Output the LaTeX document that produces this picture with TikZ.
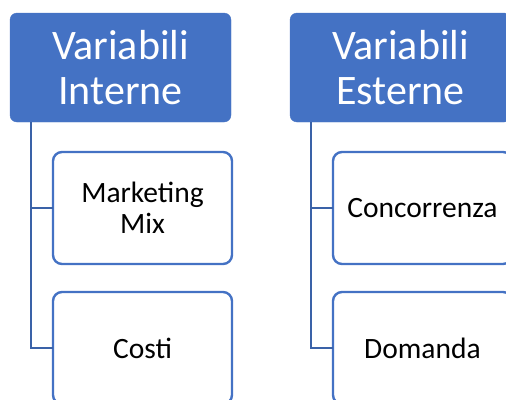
\documentclass[tikz,border=0pt]{standalone}
\usepackage{fontspec}
\setmainfont{Carlito}
\definecolor{accent}{HTML}{4472C4}
\definecolor{linkblue}{HTML}{3A62A8}
\tikzset{
  header/.style={fill=accent, draw=accent, rounded corners=7pt, minimum width=221pt, minimum height=109pt, inner sep=0pt, outer sep=0pt, text=white, align=center, font=\fontsize{42}{45}\selectfont},
  child/.style={fill=white, draw=accent, line width=2.4pt, rounded corners=9pt, minimum width=179pt, minimum height=112pt, inner sep=0pt, outer sep=0pt, text=black, align=center, font=\fontsize{29.5}{31}\selectfont},
  link/.style={draw=linkblue, line width=2.8pt}
}
\begin{document}
\begin{tikzpicture}[x=1pt,y=1pt]
\useasboundingbox (0,0) rectangle (506,-399);
\clip (0,0) rectangle (506,-399);
\node[header] (h1) at (120.5,-67.5) {Variabili\\Interne};
\node[header] (h2) at (400.5,-67.5) {Variabili\\Esterne};
\node[child] (c1) at (142.5,-208) {Marketing\\Mix};
\node[child] (c2) at (142.5,-348) {Costi};
\node[child] (c3) at (422.5,-208) {Concorrenza};
\node[child] (c4) at (422.5,-348) {Domanda};
\draw[link] ([xshift=21pt]h1.south west) |- (c2.west);
\draw[link] ([xshift=21pt]h1.south west) |- (c1.west);
\draw[link] ([xshift=21pt]h2.south west) |- (c4.west);
\draw[link] ([xshift=21pt]h2.south west) |- (c3.west);
\end{tikzpicture}
\end{document}
